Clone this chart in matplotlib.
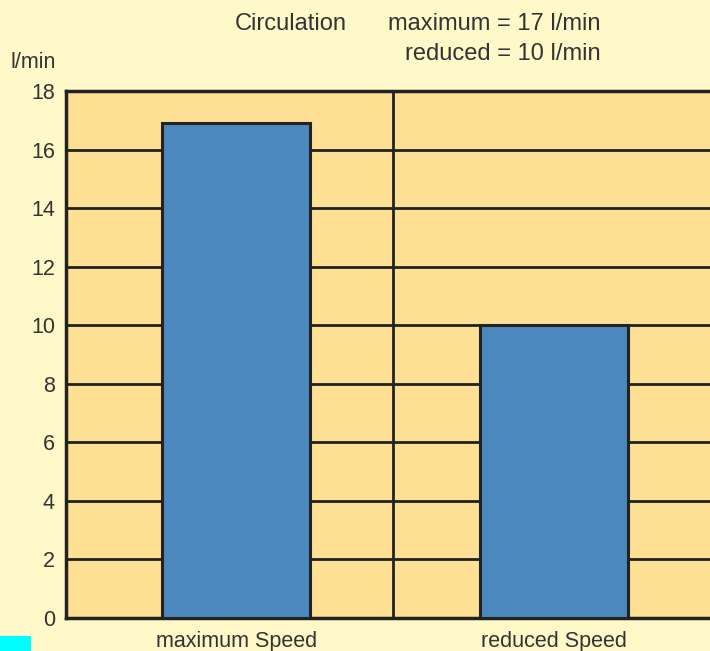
import matplotlib.pyplot as plt
from matplotlib.patches import Rectangle

categories = ['maximum Speed', 'reduced Speed']
flow = [16.9, 10.0]
yticks = [0, 2, 4, 6, 8, 10, 12, 14, 16, 18]

plt.rcParams['font.family'] = ['Liberation Sans', 'DejaVu Sans']
txt = '#333333'

fig = plt.figure(figsize=(7.1, 6.51), dpi=100, facecolor='#fff8c8')
ax = fig.add_axes([66 / 710, 1 - 618 / 651, 1 - 66 / 710, (618 - 91) / 651])
ax.set_facecolor('#fde093')

x = list(range(len(categories)))
ax.bar(x, flow, width=0.465, color='#4a88be', edgecolor='#222222', linewidth=2.2, zorder=3)

ax.set_xlim(-0.535, 1.49)
ax.set_ylim(0, 18)
ax.set_yticks(yticks)
ax.set_yticklabels([str(t) for t in yticks], fontsize=15.5, color=txt)
ax.set_xticks(x)
ax.set_xticklabels(categories, fontsize=15.5, color=txt)
ax.tick_params(length=0, pad=8)
ax.tick_params(axis='x', pad=9)

ax.yaxis.grid(True, color='#222222', linewidth=2)
ax.axvline(0.494, color='#222222', linewidth=2)
ax.set_axisbelow(True)

for side in ['left', 'top', 'bottom']:
    ax.spines[side].set_linewidth(2.5)
    ax.spines[side].set_color('#222222')
ax.spines['right'].set_visible(False)

fig.text(10 / 710, 1 - 63 / 651, 'l/min', fontsize=15.5, color=txt, va='center')
fig.text(235 / 710, 1 - 24 / 651, 'Circulation', fontsize=17, color=txt, va='center')
fig.text(601 / 710, 1 - 24 / 651, 'maximum = 17 l/min', fontsize=17, color=txt,
         va='center', ha='right')
fig.text(601 / 710, 1 - 54 / 651, 'reduced = 10 l/min', fontsize=17, color=txt,
         va='center', ha='right')

fig.patches.append(Rectangle((0, 0), 31 / 710, 15 / 651, transform=fig.transFigure,
                             facecolor='#00ffff', edgecolor='none'))

fig.savefig('out.png', dpi=100, facecolor=fig.get_facecolor())
